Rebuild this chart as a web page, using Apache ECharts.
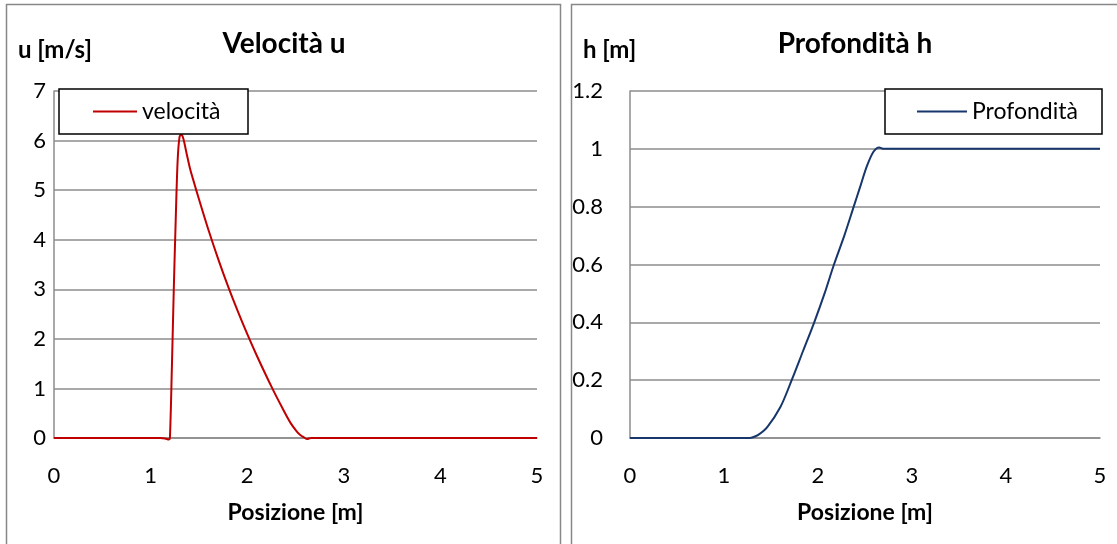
<!DOCTYPE html>
<html>
<head>
<meta charset="utf-8">
<script src="https://cdn.jsdelivr.net/npm/echarts@6/dist/echarts.min.js"></script>
<style>
html,body{margin:0;padding:0;background:#fff;}
#c{width:1117px;height:544px;}
</style>
</head>
<body>
<div id="c"></div>
<script>
// ---- Data ----
const posU = [0, 1.10, 1.15, 1.19, 1.20, 1.22, 1.24, 1.26, 1.28, 1.30, 1.32, 1.34, 1.375, 1.41, 1.45, 1.50, 1.60, 1.70, 1.80, 1.90, 2.00, 2.10, 2.26, 2.36, 2.45, 2.51, 2.55, 2.59, 2.62, 2.66, 5];
const velocita = [0, 0, -0.01, -0.03, 0, 1.4, 3.0, 4.4, 5.6, 6.08, 6.12, 6.03, 5.72, 5.42, 5.15, 4.82, 4.19, 3.61, 3.07, 2.57, 2.10, 1.66, 1.00, 0.62, 0.30, 0.14, 0.06, 0.01, -0.02, 0, 0];
const posH = [0, 1.25, 1.30, 1.36, 1.46, 1.60, 1.72, 1.84, 1.96, 2.07, 2.17, 2.28, 2.38, 2.45, 2.52, 2.59, 2.65, 2.70, 2.80, 5];
const profondita = [0, 0, 0.002, 0.01, 0.038, 0.107, 0.20, 0.30, 0.40, 0.50, 0.60, 0.70, 0.80, 0.87, 0.94, 0.99, 1.005, 1.0, 1.0, 1.0];
const titles = ['Velocità u', 'Profondità h'];
const yNames = ['u [m/s]', 'h [m]'];
const xName = 'Posizione [m]';
const seriesNames = ['velocità', 'Profondità'];

// ---- Style ----
const FONT = 'Lato';
const gridColor = '#8c8c8c';
const redC = '#C00000';
const blueC = '#17366B';

function measure(text, size, weight) {
  const ctx = document.createElement('canvas').getContext('2d');
  ctx.font = (weight || 'normal') + ' ' + size + 'px ' + FONT;
  return ctx.measureText(text).width;
}
const legFont = 23;
const wL = measure(seriesNames[0], legFont);
const wR = measure(seriesNames[1], legFont);

const chart = echarts.init(document.getElementById('c'));
const tickFmt = v => String(+v.toFixed(1));

function xAxisCfg(gi) {
  return {
    gridIndex: gi, type: 'value', min: 0, max: 5, interval: 1,
    name: xName, nameLocation: 'middle', nameGap: 63,
    nameTextStyle: {fontFamily: FONT, fontWeight: 'bold', fontSize: 23, color: '#000'},
    axisLine: {show: true, lineStyle: {color: gridColor, width: 1.5}},
    axisTick: {show: false},
    axisLabel: {fontFamily: FONT, fontSize: 22, color: '#000', margin: 27, formatter: tickFmt},
    splitLine: {show: false}
  };
}

chart.setOption({
  animation: false,
  backgroundColor: '#fff',
  textStyle: {fontFamily: FONT},
  graphic: [
    {type: 'rect', shape: {x: 6.5, y: 4.5, width: 554, height: 600}, style: {fill: 'none', stroke: '#888', lineWidth: 1.5}, z: 0},
    {type: 'rect', shape: {x: 571.5, y: 4.5, width: 600, height: 600}, style: {fill: 'none', stroke: '#888', lineWidth: 1.5}, z: 0}
  ],
  title: [
    {text: titles[0], left: 284, top: 30, textAlign: 'center', padding: 0,
     textStyle: {fontFamily: FONT, fontWeight: 'bold', fontSize: 28, color: '#000'}},
    {text: titles[1], left: 855, top: 30, textAlign: 'center', padding: 0,
     textStyle: {fontFamily: FONT, fontWeight: 'bold', fontSize: 28, color: '#000'}}
  ],
  legend: [
    {data: [seriesNames[0]], left: 59, top: 89, orient: 'horizontal',
     icon: 'rect', itemWidth: 44, itemHeight: 2,
     backgroundColor: '#fff', borderColor: '#000', borderWidth: 1.5, borderRadius: 0,
     padding: [11, Math.max(4, 189 - 34 - 44 - 5 - wL), 11, 34],
     textStyle: {fontFamily: FONT, fontSize: legFont, lineHeight: 23, color: '#000'}},
    {data: [seriesNames[1]], left: 885, top: 89, orient: 'horizontal',
     icon: 'rect', itemWidth: 50, itemHeight: 2,
     backgroundColor: '#fff', borderColor: '#000', borderWidth: 1.5, borderRadius: 0,
     padding: [11, Math.max(4, 217 - 32 - 50 - 5 - wR), 11, 32],
     textStyle: {fontFamily: FONT, fontSize: legFont, lineHeight: 23, color: '#000'}}
  ],
  grid: [
    {left: 54, right: 1117 - 537, top: 91, bottom: 544 - 438},
    {left: 630, right: 1117 - 1100, top: 91, bottom: 544 - 438}
  ],
  xAxis: [xAxisCfg(0), xAxisCfg(1)],
  yAxis: [
    {gridIndex: 0, type: 'value', min: 0, max: 7, interval: 1,
     name: yNames[0], nameLocation: 'end', nameGap: 29,
     nameTextStyle: {fontFamily: FONT, fontWeight: 'bold', fontSize: 24, color: '#000', align: 'left', padding: [0, 0, 0, -36]},
     axisLine: {show: true, lineStyle: {color: gridColor, width: 1.5}},
     axisTick: {show: false},
     axisLabel: {fontFamily: FONT, fontSize: 22, color: '#000', margin: 8, formatter: tickFmt},
     splitLine: {show: true, lineStyle: {color: gridColor, width: 1.5}}},
    {gridIndex: 1, type: 'value', min: 0, max: 1.2, interval: 0.2,
     name: yNames[1], nameLocation: 'end', nameGap: 29,
     nameTextStyle: {fontFamily: FONT, fontWeight: 'bold', fontSize: 24, color: '#000', align: 'left', padding: [0, 0, 0, -47]},
     axisLine: {show: true, lineStyle: {color: gridColor, width: 1.5}},
     axisTick: {show: false},
     axisLabel: {fontFamily: FONT, fontSize: 22, color: '#000', margin: 27, formatter: tickFmt},
     splitLine: {show: true, lineStyle: {color: gridColor, width: 1.5}}}
  ],
  series: [
    {name: seriesNames[0], type: 'line', xAxisIndex: 0, yAxisIndex: 0,
     data: posU.map((x, i) => [x, velocita[i]]),
     showSymbol: false, symbol: 'none', smooth: 0.3, clip: false,
     lineStyle: {color: redC, width: 2}, itemStyle: {color: redC}},
    {name: seriesNames[1], type: 'line', xAxisIndex: 1, yAxisIndex: 1,
     data: posH.map((x, i) => [x, profondita[i]]),
     showSymbol: false, symbol: 'none', smooth: 0.3, clip: false,
     lineStyle: {color: blueC, width: 2}, itemStyle: {color: blueC}}
  ]
});
</script>
</body>
</html>
